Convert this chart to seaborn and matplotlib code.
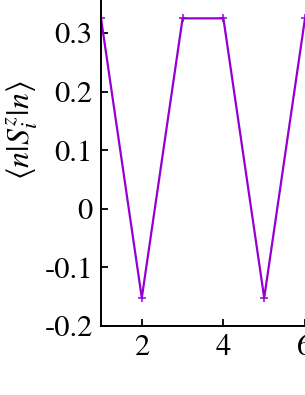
import matplotlib
matplotlib.use("Agg")
import matplotlib.pyplot as plt
import seaborn as sns
import pandas as pd

# Werte
sites = [1, 2, 3, 4, 5, 6]
sz = [0.325, -0.152, 0.325, 0.325, -0.152, 0.325]
yticks = [-0.2, -0.1, 0, 0.1, 0.2, 0.3]
ytick_labels = ["-0.2", "-0.1", "0", "0.1", "0.2", "0.3"]
xticks = [2, 4, 6]

df = pd.DataFrame({"site": sites, "sz": sz})

sns.set_style("ticks")
plt.rcParams["font.family"] = ["STIXGeneral", "Liberation Serif", "DejaVu Serif"]
plt.rcParams["mathtext.fontset"] = "stix"
plt.rcParams["axes.unicode_minus"] = False
plt.rcParams["text.color"] = "black"
plt.rcParams["axes.labelcolor"] = "black"

W, H = 305, 395
fig = plt.figure(figsize=(W / 100, H / 100), dpi=100)

# Achse reicht ueber den Bildrand hinaus (Ausschnitt)
x0, x1 = 1, 10
y0, y1 = -0.2, 0.45
px_x = 40.8
px_y = 586
left, bottom = 101, 395 - 326
ax = fig.add_axes([left / W, bottom / H, (x1 - x0) * px_x / W, (y1 - y0) * px_y / H])

sns.lineplot(data=df, x="site", y="sz", ax=ax, color="#9400D3", lw=1.6,
             marker="+", markersize=6, markeredgewidth=1.1, markeredgecolor="#9400D3")

ax.set_xlim(x0, x1)
ax.set_ylim(y0, y1)
ax.set_xticks(xticks)
ax.set_yticks(yticks)
ax.set_yticklabels(ytick_labels)
ax.tick_params(direction="in", length=5, width=1.3, labelsize=22, pad=6,
               top=True, right=True, colors="black")
for s in ax.spines.values():
    s.set_linewidth(1.4)
    s.set_color("black")

ax.set_xlabel("")
ax.set_ylabel(r"$\langle n|S_i^z|n\rangle$", fontsize=23)
ax.yaxis.set_label_coords((40 - left) / ((x1 - x0) * px_x), (326 - 130) / ((y1 - y0) * px_y))

fig.savefig("out.png", dpi=100)
